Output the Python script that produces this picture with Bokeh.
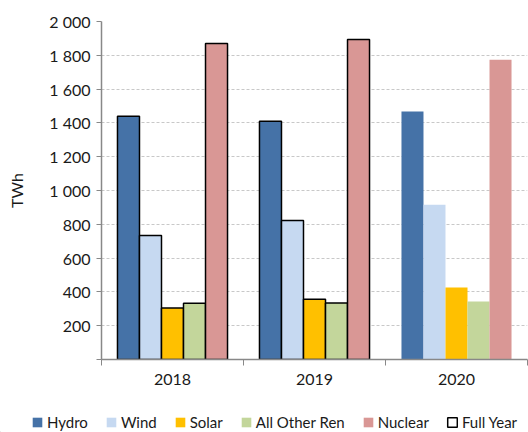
from bokeh.plotting import figure
from bokeh.models import (ColumnDataSource, Range1d, FixedTicker, Legend, LegendItem)
from bokeh.layouts import column
from bokeh.transform import dodge
from bokeh.embed import file_html
from bokeh.resources import INLINE

years = ["2018", "2019", "2020"]
hydro = [1440, 1410, 1467]
wind = [734, 822, 915]
solar = [304, 357, 426]
other_ren = [333, 335, 343]
nuclear = [1870, 1893, 1773]
full_year = [1, 1, 0]

series = [("Hydro", hydro, "#4572A7"), ("Wind", wind, "#C6D9F1"),
          ("Solar", solar, "#FFC000"), ("All Other Ren", other_ren, "#C3D69B"),
          ("Nuclear", nuclear, "#D99795")]

FONT = "Lato"

src = ColumnDataSource(dict(
    x=[i + 0.5 for i in range(len(years))],
    hydro=hydro, wind=wind, solar=solar, other=other_ren, nuclear=nuclear,
    outline=full_year))
keys = ["hydro", "wind", "solar", "other", "nuclear"]

p = figure(width=528, height=400, output_backend="svg", toolbar_location=None,
           x_range=Range1d(0, 3), y_range=Range1d(0, 2000),
           min_border_left=101, min_border_right=1, min_border_top=21,
           min_border_bottom=41)
p.frame_align = False
p.outline_line_color = None
p.background_fill_color = "white"
p.border_fill_color = "white"

bw = 0.155
offsets = [-2 * bw, -bw, 0, bw, 2 * bw]
for (name, vals, col), key, off in zip(series, keys, offsets):
    p.vbar(x=dodge("x", off, range=p.x_range), top=key, width=bw, source=src,
           fill_color=col, line_color="black", line_width=1.5, line_alpha="outline")

# x axis
xt = FixedTicker(ticks=[i + 0.5 for i in range(len(years))],
                 minor_ticks=list(range(len(years) + 1)))
p.xaxis.ticker = xt
p.xaxis.major_label_overrides = {i + 0.5: y for i, y in enumerate(years)}
p.xaxis.major_tick_line_color = None
p.xaxis.minor_tick_out = 6
p.xaxis.minor_tick_in = 0
p.xaxis.minor_tick_line_color = "#888888"
p.xaxis.axis_line_color = "#888888"
p.xaxis.axis_line_width = 1.5
p.xaxis.major_label_text_font = FONT
p.xaxis.major_label_text_font_size = "16px"
p.xaxis.major_label_text_color = "#1a1a1a"
p.xaxis.major_label_standoff = 8

# y axis
yticks = list(range(0, 2001, 200))
p.yaxis.ticker = FixedTicker(ticks=yticks, minor_ticks=[])
p.yaxis.major_label_overrides = {v: ("" if v == 0 else f"{v:,}".replace(",", " ")) for v in yticks}
p.yaxis.axis_label = "TWh"
p.yaxis.axis_label_text_font = FONT
p.yaxis.axis_label_text_font_style = "normal"
p.yaxis.axis_label_text_font_size = "16px"
p.yaxis.axis_label_text_color = "#1a1a1a"
p.yaxis.axis_label_standoff = 20
p.yaxis.major_label_text_font = FONT
p.yaxis.major_label_text_font_size = "16px"
p.yaxis.major_label_text_color = "#1a1a1a"
p.yaxis.major_tick_out = 5
p.yaxis.major_tick_in = 0
p.yaxis.major_tick_line_color = "#888888"
p.yaxis.axis_line_color = "#888888"
p.yaxis.axis_line_width = 1.5
p.yaxis.major_label_standoff = 6

p.xgrid.grid_line_color = None
p.ygrid.grid_line_color = "#c8c8c8"
p.ygrid.grid_line_dash = "3 2"
p.ygrid.ticker = FixedTicker(ticks=yticks[1:])

# legend strip
pl = figure(width=528, height=32, output_backend="svg", toolbar_location=None,
            x_range=Range1d(0, 1), y_range=Range1d(0, 1),
            x_axis_location=None, y_axis_location=None,
            min_border_left=0, min_border_right=0, min_border_top=0,
            min_border_bottom=0)
pl.frame_align = False
pl.grid.visible = False
pl.outline_line_color = None
offscreen = ColumnDataSource(dict(x=[-10], top=[-10]))
items = []
for name, vals, col in series:
    r = pl.vbar(x="x", top="top", width=0.1, source=offscreen, fill_color=col, line_color=None)
    items.append(LegendItem(label=name, renderers=[r]))
r = pl.vbar(x="x", top="top", width=0.1, source=offscreen, fill_color="white",
            line_color="black", line_width=1.5)
items.append(LegendItem(label="Full Year", renderers=[r]))

legend = Legend(items=items, orientation="horizontal", location=(31, 1),
                glyph_width=12, glyph_height=12, label_standoff=4, spacing=17,
                padding=0, margin=0, border_line_color=None,
                background_fill_alpha=0, label_text_font=FONT,
                label_text_font_size="15px", label_text_color="#1a1a1a")
pl.add_layout(legend, "center")

open("out.html", "w").write(file_html(column(p, pl, spacing=0), INLINE))
